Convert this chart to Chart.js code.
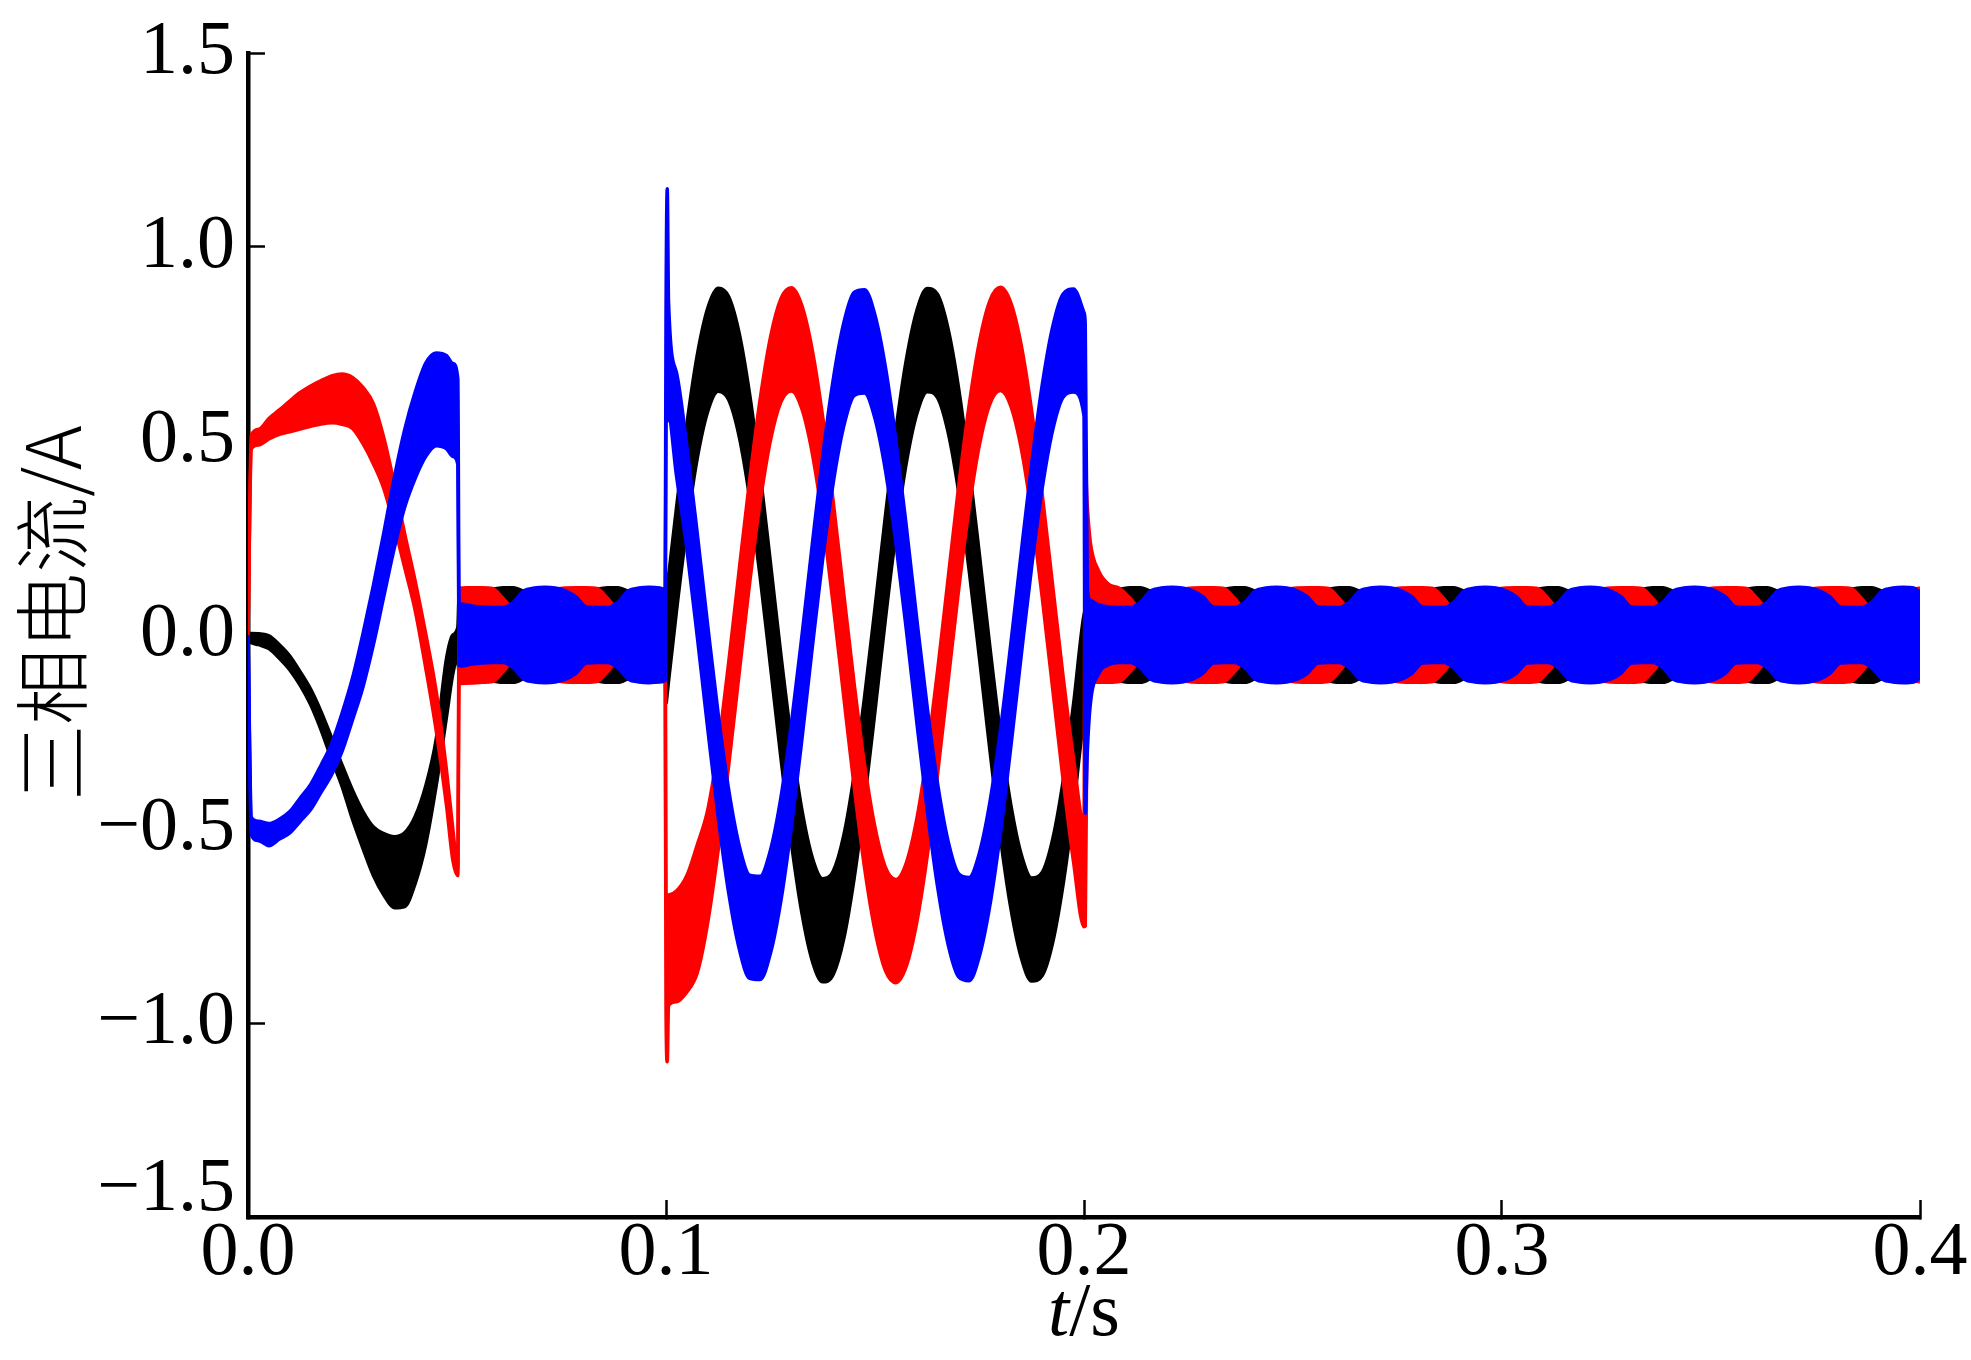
<!DOCTYPE html>
<html><head><meta charset="utf-8">
<script src="https://cdn.jsdelivr.net/npm/chart.js@4.4.1/dist/chart.umd.min.js"></script>
<style>html,body{margin:0;padding:0;background:#fff;}canvas{display:block;}</style>
</head><body>
<canvas id="c" width="1971" height="1360"></canvas>
<script>
// ---- sample times (s) ----
const t = [
// 0 - 0.05
0, 0.0008, 0.0025, 0.005, 0.0075, 0.01, 0.0125, 0.015, 0.0175, 0.02, 0.0225, 0.025, 0.0275, 0.03, 0.0325, 0.035, 0.0375, 0.04, 0.0425, 0.045, 0.0475, 0.049, 0.0502,
// 0.05 - 0.1
0.0505, 0.051, 0.0535, 0.056, 0.0585, 0.061, 0.0635, 0.066, 0.0685, 0.071, 0.0735, 0.076, 0.0785, 0.081, 0.0835, 0.086, 0.0885, 0.091, 0.0935, 0.096, 0.0985, 0.0998,
// 0.1 - 0.2
0.1, 0.1003, 0.1006, 0.1025, 0.105, 0.1075, 0.11, 0.1125, 0.115, 0.1175, 0.12, 0.1225, 0.125, 0.1275, 0.13, 0.1325, 0.135, 0.1375, 0.14, 0.1425, 0.145, 0.1475, 0.15, 0.1525, 0.155, 0.1575, 0.16, 0.1625, 0.165, 0.1675, 0.17, 0.1725, 0.175, 0.1775, 0.18, 0.1825, 0.185, 0.1875, 0.19, 0.1925, 0.195, 0.1975, 0.2,
// 0.2 - 0.4
0.2003, 0.2008, 0.2015, 0.2035, 0.206, 0.2085, 0.211, 0.2135, 0.216, 0.2185,
0.221, 0.2235, 0.226, 0.2285, 0.231, 0.2335, 0.236, 0.2385, 0.241, 0.2435,
0.246, 0.2485, 0.251, 0.2535, 0.256, 0.2585, 0.261, 0.2635, 0.266, 0.2685,
0.271, 0.2735, 0.276, 0.2785, 0.281, 0.2835, 0.286, 0.2885, 0.291, 0.2935,
0.296, 0.2985, 0.301, 0.3035, 0.306, 0.3085, 0.311, 0.3135, 0.316, 0.3185,
0.321, 0.3235, 0.326, 0.3285, 0.331, 0.3335, 0.336, 0.3385, 0.341, 0.3435,
0.346, 0.3485, 0.351, 0.3535, 0.356, 0.3585, 0.361, 0.3635, 0.366, 0.3685,
0.371, 0.3735, 0.376, 0.3785, 0.381, 0.3835, 0.386, 0.3885, 0.391, 0.3935,
0.396, 0.3985, 0.4
];

// ---- phase currents: upper / lower envelope of the ripple band (A) ----
const blueHi = [
0, -0.47, -0.48, -0.486, -0.475, -0.455, -0.42, -0.385, -0.335, -0.28, -0.202, -0.111, 0.003, 0.128, 0.264, 0.406, 0.53, 0.626, 0.70, 0.727, 0.72, 0.70, 0.66,
0.078, 0.08, 0.075, 0.072, 0.071, 0.071, 0.085, 0.114, 0.121, 0.123, 0.121, 0.114, 0.098, 0.072, 0.071, 0.071, 0.085, 0.114, 0.121, 0.123, 0.121, 0.117,
0.815, 1.15, 0.86, 0.677, 0.486, 0.260, 0.023, -0.205, -0.399, -0.542, -0.619, -0.622, -0.554, -0.418, -0.228, -0.004, 0.234, 0.463, 0.658, 0.803, 0.883, 0.890, 0.824, 0.690, 0.502, 0.279, 0.041, -0.187, -0.385, -0.532, -0.615, -0.625, -0.561, -0.430, -0.245, -0.022, 0.215, 0.444, 0.644, 0.794, 0.879, 0.892, 0.831,
0.80, 0.12, 0.09, 0.078, 0.072, 0.071, 0.071, 0.085, 0.114, 0.121,
0.123, 0.121, 0.114, 0.098, 0.072, 0.071, 0.071, 0.085, 0.114, 0.121,
0.123, 0.121, 0.114, 0.098, 0.072, 0.071, 0.071, 0.085, 0.114, 0.121,
0.123, 0.121, 0.114, 0.098, 0.072, 0.071, 0.071, 0.085, 0.114, 0.121,
0.123, 0.121, 0.114, 0.098, 0.072, 0.071, 0.071, 0.085, 0.114, 0.121,
0.123, 0.121, 0.114, 0.098, 0.072, 0.071, 0.071, 0.085, 0.114, 0.121,
0.123, 0.121, 0.114, 0.098, 0.072, 0.071, 0.071, 0.085, 0.114, 0.121,
0.123, 0.121, 0.114, 0.098, 0.072, 0.071, 0.071, 0.085, 0.114, 0.121,
0.123, 0.121, 0.110
];
const blueLo = [
0, -0.515, -0.53, -0.543, -0.526, -0.51, -0.48, -0.45, -0.405, -0.36, -0.30, -0.219, -0.134, -0.025, 0.10, 0.224, 0.33, 0.404, 0.46, 0.488, 0.48, 0.46, 0.44,
-0.078, -0.08, -0.075, -0.072, -0.071, -0.071, -0.085, -0.114, -0.121, -0.123, -0.121, -0.114, -0.098, -0.072, -0.071, -0.071, -0.085, -0.114, -0.121, -0.123, -0.121, -0.117,
0.549, 0.55, 0.56, 0.411, 0.220, -0.006, -0.243, -0.471, -0.665, -0.808, -0.885, -0.888, -0.820, -0.684, -0.494, -0.270, -0.032, 0.197, 0.392, 0.537, 0.617, 0.624, 0.558, 0.424, 0.236, 0.013, -0.225, -0.453, -0.651, -0.798, -0.881, -0.891, -0.827, -0.696, -0.511, -0.288, -0.051, 0.178, 0.378, 0.528, 0.613, 0.626, 0.565,
-0.46, -0.30, -0.18, -0.10, -0.076, -0.071, -0.071, -0.085, -0.114, -0.121,
-0.123, -0.121, -0.114, -0.098, -0.072, -0.071, -0.071, -0.085, -0.114, -0.121,
-0.123, -0.121, -0.114, -0.098, -0.072, -0.071, -0.071, -0.085, -0.114, -0.121,
-0.123, -0.121, -0.114, -0.098, -0.072, -0.071, -0.071, -0.085, -0.114, -0.121,
-0.123, -0.121, -0.114, -0.098, -0.072, -0.071, -0.071, -0.085, -0.114, -0.121,
-0.123, -0.121, -0.114, -0.098, -0.072, -0.071, -0.071, -0.085, -0.114, -0.121,
-0.123, -0.121, -0.114, -0.098, -0.072, -0.071, -0.071, -0.085, -0.114, -0.121,
-0.123, -0.121, -0.114, -0.098, -0.072, -0.071, -0.071, -0.085, -0.114, -0.121,
-0.123, -0.121, -0.110
];
const redHi = [
0, 0.515, 0.53, 0.558, 0.58, 0.603, 0.625, 0.642, 0.656, 0.668, 0.673, 0.664, 0.638, 0.596, 0.508, 0.389, 0.26, 0.139, 0.004, -0.144, -0.35, -0.50, -0.60,
0.117, 0.121, 0.122, 0.122, 0.120, 0.095, 0.068, 0.100, 0.110, 0.115, 0.118, 0.121, 0.122, 0.122, 0.120, 0.095, 0.068, 0.100, 0.110, 0.115, 0.118, 0.120,
-0.67, -0.67, -0.67, -0.66, -0.62, -0.54, -0.45, -0.287, -0.070, 0.167, 0.399, 0.606, 0.768, 0.867, 0.895, 0.849, 0.734, 0.561, 0.344, 0.109, -0.124, -0.334, -0.496, -0.599, -0.630, -0.587, -0.474, -0.303, -0.089, 0.147, 0.382, 0.591, 0.757, 0.862, 0.896, 0.856, 0.746, 0.576, 0.363, 0.128, -0.107, -0.319, -0.486,
0.43, 0.33, 0.24, 0.165, 0.13, 0.120, 0.095, 0.068, 0.100, 0.110,
0.115, 0.118, 0.121, 0.122, 0.122, 0.120, 0.095, 0.068, 0.100, 0.110,
0.115, 0.118, 0.121, 0.122, 0.122, 0.120, 0.095, 0.068, 0.100, 0.110,
0.115, 0.118, 0.121, 0.122, 0.122, 0.120, 0.095, 0.068, 0.100, 0.110,
0.115, 0.118, 0.121, 0.122, 0.122, 0.120, 0.095, 0.068, 0.100, 0.110,
0.115, 0.118, 0.121, 0.122, 0.122, 0.120, 0.095, 0.068, 0.100, 0.110,
0.115, 0.118, 0.121, 0.122, 0.122, 0.120, 0.095, 0.068, 0.100, 0.110,
0.115, 0.118, 0.121, 0.122, 0.122, 0.120, 0.095, 0.068, 0.100, 0.110,
0.115, 0.118, 0.121
];
const redLo = [
0, 0.48, 0.49, 0.505, 0.517, 0.524, 0.531, 0.538, 0.544, 0.547, 0.543, 0.532, 0.493, 0.441, 0.377, 0.28, 0.173, 0.063, -0.084, -0.245, -0.44, -0.58, -0.62,
-0.125, -0.125, -0.124, -0.122, -0.120, -0.095, -0.068, -0.100, -0.110, -0.115, -0.118, -0.121, -0.122, -0.122, -0.120, -0.095, -0.068, -0.100, -0.110, -0.115, -0.118, -0.120,
-0.955, -1.10, -0.955, -0.945, -0.92, -0.87, -0.74, -0.553, -0.336, -0.099, 0.133, 0.340, 0.502, 0.601, 0.629, 0.583, 0.468, 0.295, 0.078, -0.157, -0.390, -0.600, -0.762, -0.865, -0.896, -0.853, -0.740, -0.569, -0.355, -0.119, 0.116, 0.325, 0.491, 0.596, 0.630, 0.590, 0.480, 0.310, 0.097, -0.138, -0.373, -0.585, -0.752,
-0.75, -0.14, -0.12, -0.122, -0.122, -0.120, -0.095, -0.068, -0.100, -0.110,
-0.115, -0.118, -0.121, -0.122, -0.122, -0.120, -0.095, -0.068, -0.100, -0.110,
-0.115, -0.118, -0.121, -0.122, -0.122, -0.120, -0.095, -0.068, -0.100, -0.110,
-0.115, -0.118, -0.121, -0.122, -0.122, -0.120, -0.095, -0.068, -0.100, -0.110,
-0.115, -0.118, -0.121, -0.122, -0.122, -0.120, -0.095, -0.068, -0.100, -0.110,
-0.115, -0.118, -0.121, -0.122, -0.122, -0.120, -0.095, -0.068, -0.100, -0.110,
-0.115, -0.118, -0.121, -0.122, -0.122, -0.120, -0.095, -0.068, -0.100, -0.110,
-0.115, -0.118, -0.121, -0.122, -0.122, -0.120, -0.095, -0.068, -0.100, -0.110,
-0.115, -0.118, -0.121
];
const blackHi = [
0, 0.004, 0.003, -0.002, -0.025, -0.054, -0.095, -0.14, -0.198, -0.265, -0.335, -0.40, -0.455, -0.495, -0.512, -0.52, -0.51, -0.468, -0.39, -0.27, -0.06, 0.0, 0.02,
0.10, 0.09, 0.10, 0.11, 0.118, 0.122, 0.122, 0.112, 0.100, 0.090, 0.085, 0.090, 0.100, 0.110, 0.118, 0.122, 0.122, 0.112, 0.100, 0.090, 0.085, 0.087,
0.090, 0.12, 0.15, 0.327, 0.544, 0.723, 0.843, 0.894, 0.872, 0.778, 0.621, 0.418, 0.185, -0.052, -0.270, -0.450, -0.574, -0.628, -0.609, -0.518, -0.362, -0.160, 0.070, 0.308, 0.528, 0.710, 0.836, 0.893, 0.877, 0.788, 0.636, 0.435, 0.205, -0.032, -0.255, -0.438, -0.566, -0.626, -0.612, -0.527, -0.377, -0.178, 0.052,
0.06, 0.07, 0.09, 0.10, 0.11, 0.118, 0.122, 0.122, 0.112, 0.100,
0.090, 0.085, 0.090, 0.100, 0.110, 0.118, 0.122, 0.122, 0.112, 0.100,
0.090, 0.085, 0.090, 0.100, 0.110, 0.118, 0.122, 0.122, 0.112, 0.100,
0.090, 0.085, 0.090, 0.100, 0.110, 0.118, 0.122, 0.122, 0.112, 0.100,
0.090, 0.085, 0.090, 0.100, 0.110, 0.118, 0.122, 0.122, 0.112, 0.100,
0.090, 0.085, 0.090, 0.100, 0.110, 0.118, 0.122, 0.122, 0.112, 0.100,
0.090, 0.085, 0.090, 0.100, 0.110, 0.118, 0.122, 0.122, 0.112, 0.100,
0.090, 0.085, 0.090, 0.100, 0.110, 0.118, 0.122, 0.122, 0.112, 0.100,
0.090, 0.085, 0.090
];
const blackLo = [
-0.015, -0.02, -0.025, -0.035, -0.06, -0.09, -0.13, -0.18, -0.245, -0.32, -0.39, -0.475, -0.55, -0.62, -0.67, -0.703, -0.70, -0.64, -0.54, -0.39, -0.21, -0.10, -0.06,
-0.10, -0.09, -0.10, -0.11, -0.118, -0.122, -0.122, -0.112, -0.100, -0.090, -0.085, -0.090, -0.100, -0.110, -0.118, -0.122, -0.122, -0.112, -0.100, -0.090, -0.085, -0.087,
-0.176, -0.15, -0.12, 0.061, 0.278, 0.457, 0.577, 0.628, 0.606, 0.512, 0.355, 0.152, -0.081, -0.318, -0.536, -0.716, -0.840, -0.894, -0.875, -0.784, -0.628, -0.426, -0.196, 0.042, 0.262, 0.444, 0.570, 0.627, 0.611, 0.522, 0.370, 0.169, -0.061, -0.298, -0.521, -0.704, -0.832, -0.892, -0.878, -0.793, -0.643, -0.444, -0.214,
-0.20, -0.17, -0.12, -0.10, -0.11, -0.118, -0.122, -0.122, -0.112, -0.100,
-0.090, -0.085, -0.090, -0.100, -0.110, -0.118, -0.122, -0.122, -0.112, -0.100,
-0.090, -0.085, -0.090, -0.100, -0.110, -0.118, -0.122, -0.122, -0.112, -0.100,
-0.090, -0.085, -0.090, -0.100, -0.110, -0.118, -0.122, -0.122, -0.112, -0.100,
-0.090, -0.085, -0.090, -0.100, -0.110, -0.118, -0.122, -0.122, -0.112, -0.100,
-0.090, -0.085, -0.090, -0.100, -0.110, -0.118, -0.122, -0.122, -0.112, -0.100,
-0.090, -0.085, -0.090, -0.100, -0.110, -0.118, -0.122, -0.122, -0.112, -0.100,
-0.090, -0.085, -0.090, -0.100, -0.110, -0.118, -0.122, -0.122, -0.112, -0.100,
-0.090, -0.085, -0.090
];

// ---- axes ----
const xTickValues = [0, 0.1, 0.2, 0.3, 0.4];
const xTickLabels = ['0.0', '0.1', '0.2', '0.3', '0.4'];
const yTickValues = [-1.5, -1, -0.5, 0, 0.5, 1, 1.5];
const yTickLabels = ['\u22121.5', '\u22121.0', '\u22120.5', '0.0', '0.5', '1.0', '1.5'];
const yTitle = '三相电流/A';
const xTitleVar = 't';
const xTitleUnit = '/s';

function toPts(arr) { return t.map((x, i) => ({x: x, y: arr[i]})); }
function lbl(values, labels, v) {
  const i = values.findIndex(a => Math.abs(a - v) < 1e-9);
  return i < 0 ? '' : labels[i];
}
function band(label, color, hi, lo) {
  const common = {borderColor: color, backgroundColor: color, borderWidth: 3.5, pointRadius: 0,
                  cubicInterpolationMode: 'monotone'};
  return [
    Object.assign({label: label + ' max', data: toPts(hi), fill: false}, common),
    Object.assign({label: label + ' min', data: toPts(lo), fill: '-1'}, common)
  ];
}

const titlePlugin = {
  id: 'axisTitles',
  afterDraw(chart) {
    const ctx = chart.ctx;
    const xs = chart.scales.x, ys = chart.scales.y;
    ctx.save();
    ctx.fillStyle = '#000';
    ctx.translate(ys.left + 52, (ys.top + ys.bottom) / 2 - 22);
    ctx.rotate(-Math.PI / 2);
    ctx.font = '300 76px "Noto Sans CJK SC"';
    ctx.textAlign = 'center';
    ctx.textBaseline = 'middle';
    ctx.fillText(yTitle, 0, 0);
    ctx.restore();

    ctx.save();
    ctx.fillStyle = '#000';
    const fItal = 'italic 76px "Liberation Serif"';
    const fNorm = '76px "Liberation Serif"';
    ctx.font = fItal; const w1 = ctx.measureText(xTitleVar).width;
    ctx.font = fNorm; const w2 = ctx.measureText(xTitleUnit).width;
    const cx = (xs.left + xs.right) / 2;
    const by = xs.top + 118;
    ctx.textAlign = 'left';
    ctx.textBaseline = 'alphabetic';
    ctx.font = fItal; ctx.fillText(xTitleVar, cx - (w1 + w2) / 2, by);
    ctx.font = fNorm; ctx.fillText(xTitleUnit, cx - (w1 + w2) / 2 + w1, by);
    ctx.restore();
  }
};

const datasets = [].concat(
  band('Phase C', '#0000FF', blueHi, blueLo),
  band('Phase B', '#FF0000', redHi, redLo),
  band('Phase A', '#000000', blackHi, blackLo)
);

new Chart(document.getElementById('c'), {
  type: 'line',
  data: {datasets: datasets},
  options: {
    responsive: false,
    animation: false,
    devicePixelRatio: 1,
    layout: {padding: {left: 0, top: 53, right: 51, bottom: 0}},
    plugins: {legend: {display: false}, tooltip: {enabled: false}},
    scales: {
      x: {
        type: 'linear', min: 0, max: 0.4,
        afterFit(s) { s.height = 143; s.paddingLeft = 0; s.paddingRight = 0; },
        afterBuildTicks(s) { s.ticks = xTickValues.map(v => ({value: v})); },
        border: {display: true, width: 4.5, color: '#000'},
        grid: {display: true, drawOnChartArea: false, drawTicks: true, tickLength: -17, tickWidth: 2.5, tickColor: '#000'},
        ticks: {autoSkip: false, maxRotation: 0, padding: 8, color: '#000',
                font: {family: '"Liberation Serif"', size: 76},
                callback: v => lbl(xTickValues, xTickLabels, v)}
      },
      y: {
        type: 'linear', min: -1.5, max: 1.5,
        afterFit(s) { s.width = 248; s.paddingTop = 0; s.paddingBottom = 0; },
        afterBuildTicks(s) { s.ticks = yTickValues.map(v => ({value: v})); },
        border: {display: true, width: 4.5, color: '#000'},
        grid: {display: true, drawOnChartArea: false, drawTicks: true, tickLength: -17, tickWidth: 2.5, tickColor: '#000'},
        ticks: {padding: 30, color: '#000',
                font: {family: '"Liberation Serif"', size: 76, lineHeight: 0.7},
                callback: v => {
                  const s = lbl(yTickValues, yTickLabels, v);
                  return v <= -1.5 + 1e-9 ? [s, ''] : s;
                }}
      }
    }
  },
  plugins: [titlePlugin]
});
</script>
</body></html>
